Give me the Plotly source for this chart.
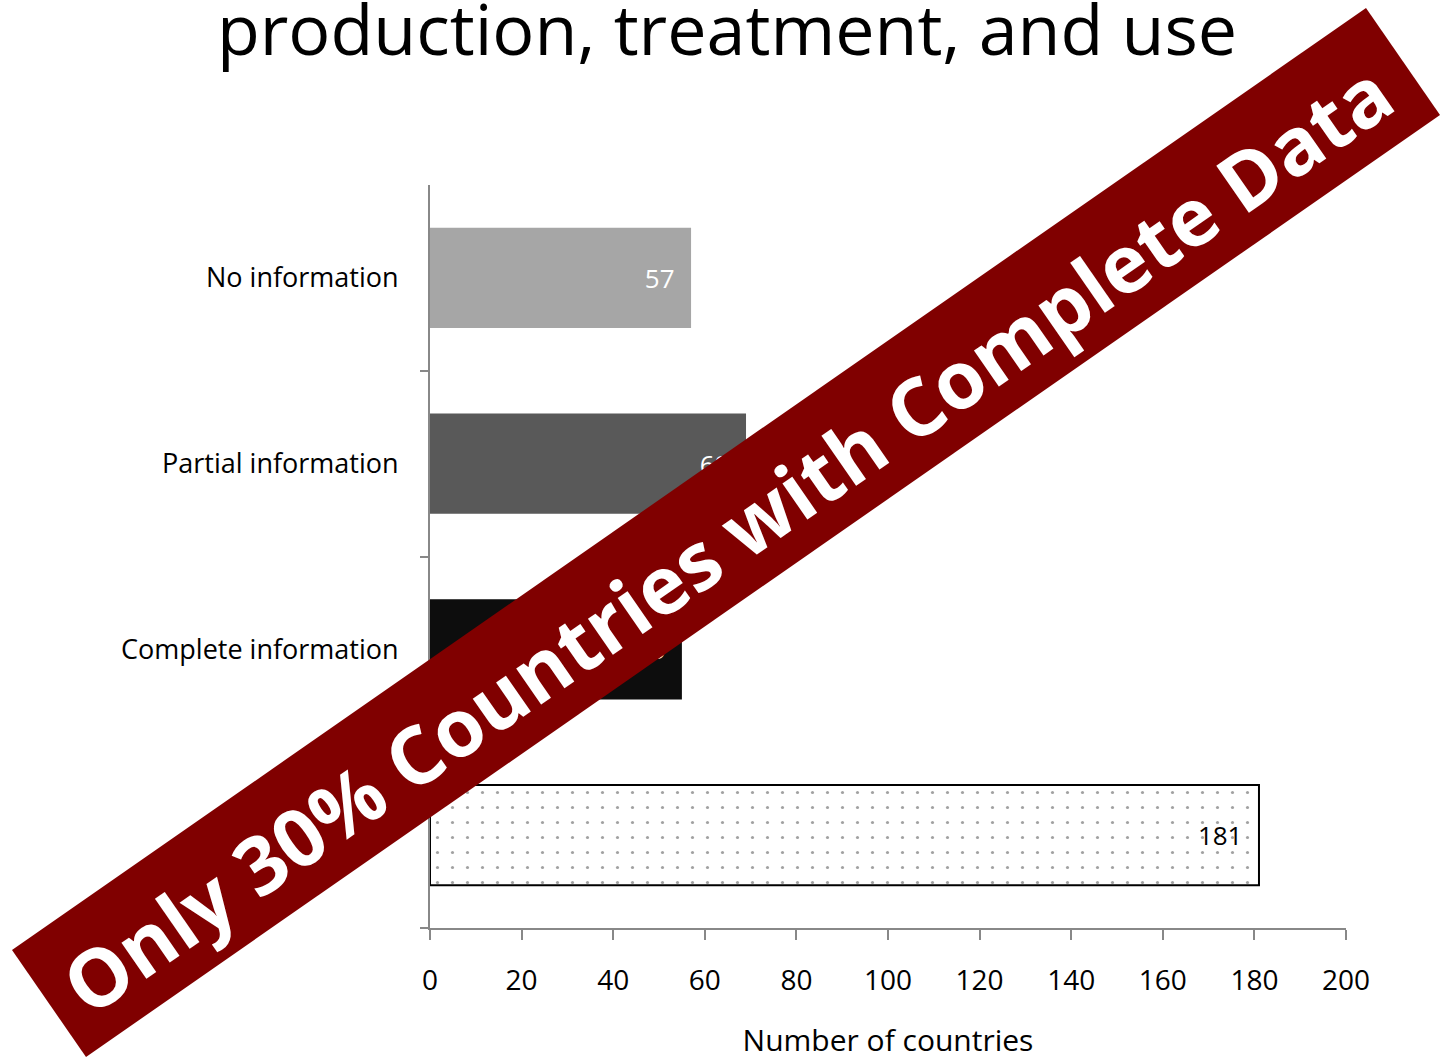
import plotly.graph_objects as go

# ---- data ----
categories = ["No information", "Partial information", "Complete information", "Total"]
category_labels = ["No information", "Partial information", "Complete information", ""]
values = [57, 69, 55, 181]
x_ticks = [0, 20, 40, 60, 80, 100, 120, 140, 160, 180, 200]
title_text = "production, treatment, and use"
banner_text = "Only 30% Countries with Complete Data"
x_title = "Number of countries"

# ---- styles ----
bar_colors = ["#A6A6A6", "#595959", "#0D0D0D", "#FFFFFF"]
text_colors = ["#FFFFFF", "#FFFFFF", "#FFFFFF", "#000000"]
line_widths = [0, 0, 0, 2]
pattern_shapes = ["", "", "", "."]

W, H = 1441, 1060
ML, MR, MT, MB = 430, 95, 185, 132
PW, PH = W - ML - MR, H - MT - MB

def px(x):
    return (x - ML) / PW

def py(y):
    return (H - MB - y) / PH

fig = go.Figure()
fig.add_trace(go.Bar(
    y=categories,
    x=values,
    orientation="h",
    text=[str(v) for v in values],
    texttemplate="%{text}\u00a0\u00a0",
    textposition="inside",
    insidetextanchor="end",
    textfont=dict(family="Open Sans", size=26, color=text_colors),
    marker=dict(
        color=bar_colors,
        line=dict(color="#000000", width=line_widths),
        pattern=dict(shape=pattern_shapes, fgcolor="#222222", bgcolor="#FFFFFF",
                     size=15, solidity=0.035),
    ),
    cliponaxis=False,
    showlegend=False,
    hoverinfo="skip",
))

# banner corners in pixels
A = (12, 950)
B = (1366, 8)
C = (1440, 115)
D = (86, 1057)
path = "M {} {} L {} {} L {} {} L {} {} Z".format(
    px(A[0]), py(A[1]), px(B[0]), py(B[1]), px(C[0]), py(C[1]), px(D[0]), py(D[1]))

fig.update_layout(
    width=W, height=H,
    margin=dict(l=ML, r=MR, t=MT, b=MB, pad=0, autoexpand=False),
    paper_bgcolor="white",
    plot_bgcolor="white",
    bargap=0.46,
    font=dict(family="Open Sans", color="#000000"),
    title=dict(text=title_text, x=727 / W, xanchor="center", y=1.0 - 6 / H, yanchor="top",
               yref="container", pad=dict(t=0), automargin=False,
               font=dict(family="Open Sans", size=70, color="#000000")),
    xaxis=dict(
        range=[0, 200], tickvals=x_ticks, showgrid=False, zeroline=False,
        automargin=False,
        showline=True, linecolor="#888888", linewidth=2,
        ticks="outside", ticklen=10, tickwidth=2, tickcolor="#888888",
        tickfont=dict(size=28, family="Open Sans"),
        title=dict(text=x_title, font=dict(size=30, family="Open Sans"), standoff=34),
        ticklabelstandoff=16,
    ),
    yaxis=dict(
        categoryorder="array", categoryarray=categories[::-1],
        tickmode="array", tickvals=categories, ticktext=category_labels,
        automargin=False,
        showgrid=False, zeroline=False,
        showline=True, linecolor="#888888", linewidth=2,
        ticks="outside", ticklen=8, tickwidth=2, tickcolor="#888888",
        tickson="boundaries",
        tickfont=dict(size=27, family="Open Sans"),
        ticklabelstandoff=24,
    ),
    shapes=[dict(type="path", path=path, xref="paper", yref="paper",
                 fillcolor="#800000", line=dict(width=0), layer="above")],
    annotations=[dict(
        text="<b>" + banner_text + "</b>", x=px(726), y=py(537), xref="paper", yref="paper",
        showarrow=False, textangle=-34.8, xanchor="center", yanchor="middle",
        font=dict(family="Open Sans", size=80, color="#FFFFFF"),
    )],
)

fig.write_html("out.html", config={"displayModeBar": False},
               post_script="document.body.style.margin='0';")
